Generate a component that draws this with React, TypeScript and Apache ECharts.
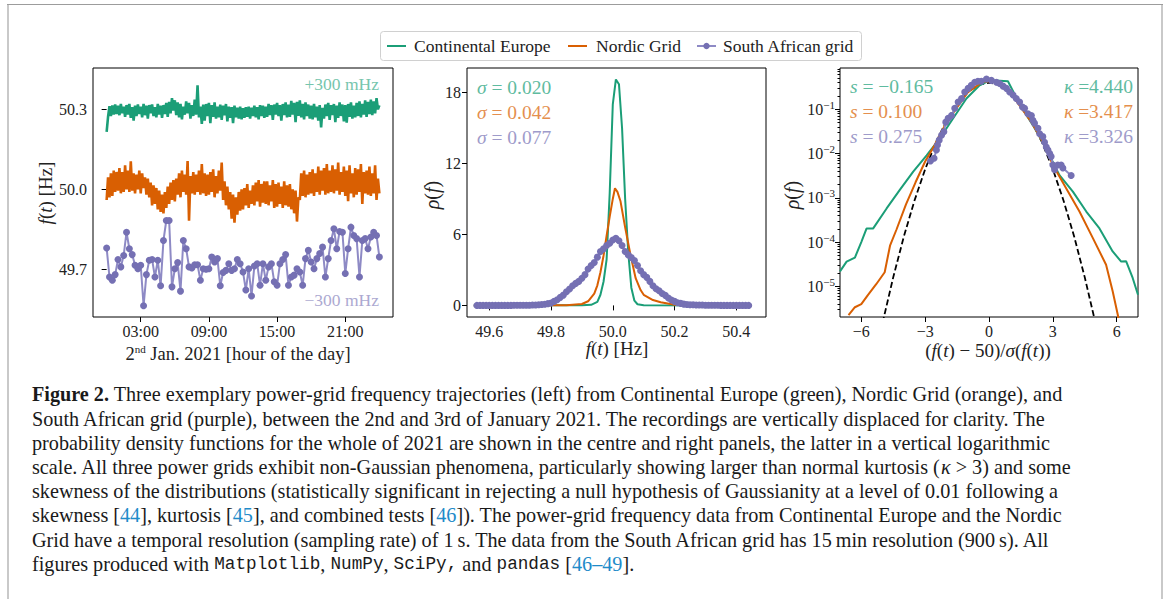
import { useEffect, useRef } from "react";
import * as echarts from "echarts";

const W = 1167;
const H = 599;
const SERIF = "'Liberation Serif', 'Times New Roman', serif";
const MONO = "'Liberation Mono', 'DejaVu Sans Mono', monospace";
const INK = "#222222";

const GREEN = "#1b9e77";
const ORANGE = "#d95f02";
const PURPLE = "#7570b3";
const PURPLE_LINE = "#8e8ac5";
const GREEN_TXT = "#5fbba0";
const ORANGE_TXT = "#e48f4e";
const PURPLE_TXT = "#9e9bca";
const GREEN_FAINT = "#76c5ad";
const PURPLE_FAINT = "#aca9d1";

const SERIES_NAMES = ["Continental Europe", "Nordic Grid", "South African grid"];

// ---------- Left panel: trajectories on 2nd Jan 2021 (deviation from 50 Hz, in mHz) ----------
const TRACE_STEP_H = 0.125; // one reading every 7.5 min of the drawn trace
const SA_STEP_H = 0.25; // South African grid: 15 min resolution
const CE_OFFSET_HZ = 0.3;
const SA_OFFSET_HZ = -0.3;
const CE_TRACE_MHZ = [
  -85, -28, 12, -25, 15, -20, 18, -18,
  14, -22, 20, -15, 10, -28, 16, -20,
  20, -32, 8, -42, 14, -25, 18, -18,
  10, -30, 20, -22, 14, -35, 16, -15,
  18, -25, 8, -30, 20, -20, 14, -32,
  16, -18, 24, -28, 28, -15, 42, -5,
  34, -22, 26, -30, 20, -38, 10, -20,
  30, -15, 24, -35, 16, -25, 36, -20,
  90, -30, 10, -55, 18, -42, 20, -25,
  24, -52, 16, -28, 26, -35, 10, -30,
  18, -40, 14, -22, 20, -45, 10, -32,
  8, -52, 14, -30, 6, -35, 10, -38,
  4, -32, 8, -28, 10, -35, 6, -25,
  14, -30, 8, -38, 16, -25, 14, -32,
  10, -28, 20, -22, 16, -40, 18, -20,
  24, -25, 16, -42, 20, -22, 26, -30,
  18, -28, 32, -20, 24, -48, 28, -25,
  34, -30, 20, -38, 26, -25, 18, -35,
  14, -38, 20, -30, 10, -42, 16, -68,
  6, -35, 18, -25, 24, -40, 16, -22,
  20, -48, 14, -32, 26, -25, 18, -45,
  16, -50, 20, -28, 26, -35, 14, -30,
  24, -25, 30, -30, 20, -20, 34, -28,
  28, -18, 36, -22, 30, -15, 42, 0,
  15,
];
const NG_TRACE_MHZ = [
  -40, 45, -30, 60, -25, 70, -10, 65,
  -5, 80, -15, 65, -10, 90, 0, 70,
  -10, 105, -5, 60, -15, 55, 0, 70,
  -15, 60, 5, 45, -20, 40, -30, 25,
  -60, 15, -55, 5, -75, -5, -85, -20,
  -90, -10, -70, 10, -55, 25, -40, 35,
  -45, 40, -20, 60, -30, 70, -10, 55,
  -20, 106, -118, 50, -15, 65, -20, 55,
  -10, 70, -20, 95, -15, 60, -25, 55,
  -20, 65, -10, 75, -30, 50, -15, 70,
  -5, 100, -40, 30, -60, 10, -75, -10,
  -110, -20, -125, -30, -95, -10, -80, 0,
  -75, 5, -60, 20, -70, -5, -55, 15,
  -60, 25, -45, 35, -65, 20, -50, 30,
  -55, 30, -60, 15, -45, 35, -70, 20,
  -65, 25, -55, 10, -70, 30, -60, 15,
  -65, 20, -75, 0, -90, -5, -121, -30,
  -40, 60, -25, 70, -30, 55, -20, 65,
  -15, 75, -25, 60, -10, 85, -20, 70,
  -5, 80, -20, 95, -15, 70, -10, 90,
  -15, 75, -5, 100, -20, 65, -10, 85,
  -25, 70, -45, 90, -15, 60, -30, 80,
  -20, 75, -10, 95, -55, 65, -15, 70,
  -20, 85, -25, 60, -15, 90, -40, 40,
  -15,
];
const SA_TRACE_MHZ = [
  80, -29, -41, -20, 37, 9, 52, 139, 77, 55,
  15, 2, 15, -137, -20, 34, 37, -29, 34, -62,
  108, 183, 183, -66, 2, 25, -82, 108, 77, 9,
  5, 17, 17, -41, 2, 0, 2, 46, 27, 40,
  -62, -12, -4, 21, -4, 2, 37, 21, -10, -78,
  2, -100, 12, 21, -60, 21, -41, 9, 21, -47,
  -60, 21, 37, 55, -60, -29, -22, 2, -10, -60,
  40, 71, 27, 2, 40, 59, 83, -29, 40, 108,
  152, 77, 142, 139, -16, 77, 158, 127, 115, -29,
  108, 115, 77, 121, 139, 127, 46,
];
const TIME_TICKS_H = [3, 9, 15, 21];
const FREQ_TICKS = [49.7, 50.0, 50.3];

// ---------- Middle panel: PDFs over 2021 ----------
const CE_PDF_F = [49.55, 49.9, 49.93, 49.95, 49.96, 49.97, 49.98, 49.99, 50.0, 50.01, 50.02, 50.03, 50.04, 50.05, 50.06, 50.07, 50.08, 50.1, 50.45];
const CE_PDF_RHO = [0, 0.01, 0.05, 0.3, 0.9, 2.0, 3.9, 9.5, 17.0, 19.1, 18.7, 15.0, 9.0, 4.5, 1.5, 0.4, 0.1, 0.02, 0];
const NG_PDF_F = [49.55, 49.85, 49.9, 49.92, 49.94, 49.95, 49.96, 49.97, 49.98, 49.99, 50.0, 50.007, 50.015, 50.025, 50.04, 50.057, 50.074, 50.09, 50.1, 50.13, 50.155, 50.2, 50.25, 50.45];
const NG_PDF_RHO = [0, 0.02, 0.12, 0.35, 1.0, 1.7, 2.8, 4.2, 5.9, 7.5, 9.0, 9.9, 9.6, 8.8, 6.6, 4.3, 2.3, 1.3, 0.9, 0.45, 0.26, 0.06, 0.01, 0];
const SA_PDF_START = 49.56;
const SA_PDF_BIN = 0.01;
const SA_PDF_RHO = [
  0, 0, 0, 0, 0, 0, 0, 0, 0, 0, 0, 0, 0.01, 0.01, 0.01, 0.01, 0.02, 0.02, 0.03, 0.04, 0.05, 0.07,
  0.1, 0.15, 0.2, 0.34, 0.48, 0.68, 0.87, 1.15, 1.38, 1.66, 1.86, 2.03, 2.3, 2.6, 3.07, 3.38, 3.63, 4.08, 4.55, 4.78, 5.06, 5.25,
  5.53, 5.68, 5.46, 5.06, 4.55, 4.27, 4.05, 3.8, 3.38, 2.93, 2.6, 2.37, 2.03, 1.66, 1.41, 1.24, 1.01, 0.85, 0.62, 0.45, 0.34, 0.22, 0.17, 0.11, 0.08,
  0.06, 0.05, 0.04, 0.03, 0.03, 0.02, 0.02, 0.01, 0.01, 0.01, 0, 0, 0, 0, 0, 0, 0, 0, 0, 0,
];
const PDF_X_TICKS = [49.6, 49.8, 50.0, 50.2, 50.4];
const PDF_Y_TICKS = [0, 6, 12, 18];
const SIGMA_LABELS = ["0.020", "0.042", "0.077"];

// ---------- Right panel: standardised PDFs, log scale ----------
const CE_Z = [-7.0, -6.69, -6.3, -6.0, -5.75, -5.44, -4.81, -4.19, -3.56, -2.93, -2.31, -1.69, -1.06, -0.44, 0.03, 0.5, 0.89, 1.44, 2.06, 2.69, 3.31, 3.94, 4.57, 5.19, 5.81, 6.21, 6.44, 6.75, 7.0];
const CE_Z_RHO = [2.19e-5, 3.63e-5, 4.47e-5, 1.0e-4, 2.04e-4, 2.04e-4, 5.75e-4, 1.51e-3, 3.89e-3, 9.1e-3, 2.19e-2, 6.17e-2, 0.174, 0.347, 0.447, 0.44, 0.427, 0.13, 0.0437, 0.0129, 3.24e-3, 1.38e-3, 4.9e-4, 2.04e-4, 6.17e-5, 3.63e-5, 3.72e-5, 1.55e-5, 6.46e-6];
const NG_Z = [-6.6, -6.3, -6.0, -5.7, -5.3, -4.9, -4.65, -4.35, -3.9, -3.45, -3.0, -2.6, -2.0, -1.0, -0.3, 0.2, 1.0, 2.0, 2.6, 3.0, 3.63, 4.25, 4.88, 5.5, 5.81, 6.05, 6.15];
const NG_Z_RHO = [2.24e-6, 3.39e-6, 3.98e-6, 6.3e-6, 1.12e-5, 2.09e-5, 8.3e-5, 1.9e-4, 7.1e-4, 2.24e-3, 6.6e-3, 1.41e-2, 5.0e-2, 0.24, 0.417, 0.427, 0.24, 0.05, 1.58e-2, 5.5e-3, 1.62e-3, 4.9e-4, 1.23e-4, 3.09e-5, 7.8e-6, 2.29e-6, 1.26e-6];
const SA_Z = [-2.75, -2.58, -2.47, -2.42, -2.34, -2.23, -2.12, -2.03, -1.92, -1.76, -1.61, -1.45, -1.29, -1.14, -0.98, -0.83, -0.67, -0.52, -0.36, -0.12, 0.11, 0.35, 0.5, 0.66, 0.82, 0.97, 1.13, 1.28, 1.44, 1.57, 1.67, 1.83, 1.99, 2.06, 2.14, 2.3, 2.38, 2.53, 2.61, 2.69, 2.77, 2.85, 2.92, 3.0, 3.08, 3.23, 3.39, 3.47, 3.86];
const SA_Z_RHO = [6.8e-3, 7.8e-3, 1.2e-2, 1.55e-2, 2.0e-2, 2.57e-2, 3.1e-2, 5.1e-2, 6.2e-2, 7.2e-2, 0.105, 0.145, 0.174, 0.245, 0.295, 0.347, 0.407, 0.427, 0.427, 0.479, 0.447, 0.407, 0.38, 0.331, 0.295, 0.245, 0.209, 0.174, 0.145, 0.112, 0.105, 0.079, 0.072, 0.056, 0.048, 0.037, 0.028, 0.024, 0.018, 0.014, 0.012, 0.01, 0.0085, 0.0055, 0.0043, 0.0055, 0.0055, 0.0047, 0.0032];
const GAUSS_Z = [-5, -4.5, -4, -3.5, -3, -2.5, -2, -1.5, -1, -0.5, 0, 0.5, 1, 1.5, 2, 2.5, 3, 3.5, 4, 4.5, 5];
const GAUSS_RHO = [1.5e-6, 1.6e-5, 1.34e-4, 8.7e-4, 4.4e-3, 1.75e-2, 5.4e-2, 0.13, 0.242, 0.352, 0.399, 0.352, 0.242, 0.13, 5.4e-2, 1.75e-2, 4.4e-3, 8.7e-4, 1.34e-4, 1.6e-5, 1.5e-6];
const Z_TICKS = [-6, -3, 0, 3, 6];
const LOG_EXPONENTS = [-5, -4, -3, -2, -1];
const SKEW_LABELS = ["−0.165", "0.100", "0.275"];
const KURT_LABELS = ["4.440", "3.417", "3.326"];

const CAPTION_LINES = [
  "{b|Figure 2.} Three exemplary power-grid frequency trajectories (left) from Continental Europe (green), Nordic Grid (orange), and",
  "South African grid (purple), between the 2nd and 3rd of January 2021. The recordings are vertically displaced for clarity. The",
  "probability density functions for the whole of 2021 are shown in the centre and right panels, the latter in a vertical logarithmic",
  "scale. All three power grids exhibit non-Gaussian phenomena, particularly showing larger than normal kurtosis ({i|κ} > 3) and some",
  "skewness of the distributions (statistically significant in rejecting a null hypothesis of Gaussianity at a level of 0.01 following a",
  "skewness [{c|44}], kurtosis [{c|45}], and combined tests [{c|46}]). The power-grid frequency data from Continental Europe and the Nordic",
  "Grid have a temporal resolution (sampling rate) of 1\u2009s. The data from the South African grid has 15\u2009min resolution (900\u2009s). All",
  "figures produced with {m|Matplotlib}, {m|NumPy}, {m|SciPy,} and {m|pandas} [{c|46–49}].",
];
const CAPTION_Y = [394, 418.5, 443, 467, 491, 515, 539.5, 563.5];

// ---------- helpers ----------
function rich(size: number, color: string) {
  return {
    n: { fontSize: size, fontFamily: SERIF, fill: color },
    i: { fontSize: size, fontFamily: SERIF, fontStyle: "italic", fill: color },
    b: { fontSize: size, fontFamily: SERIF, fontWeight: "bold", fill: color },
    m: { fontSize: size - 2.5, fontFamily: MONO, fill: color },
    c: { fontSize: size, fontFamily: SERIF, fill: "#1f8bc9" },
    sup: { fontSize: Math.round(size * 0.62), fontFamily: SERIF, fill: color, verticalAlign: "top", lineHeight: Math.round(size * 0.62) },
  };
}
function txt(x: number, y: number, text: string, o: any = {}) {
  const size = o.size ?? 18;
  const color = o.color ?? INK;
  return {
    type: "text",
    x,
    y,
    rotation: o.rot ?? 0,
    silent: true,
    style: {
      text,
      fontSize: size,
      fontFamily: SERIF,
      fill: color,
      align: o.align ?? "left",
      verticalAlign: "middle",
      lineHeight: Math.round(size * 1.2),
      rich: rich(size, color),
    },
  };
}

const tick = (values: number[], len = 5) => ({
  show: true,
  inside: false,
  length: len,
  customValues: values,
  lineStyle: { color: "#000", width: 1 },
});
const labelBase = { color: INK, fontSize: 16, fontFamily: SERIF, margin: 6 };
const GRID_TOP = 68;
const GRID_H = 249;

const LOG_MIN = 2.04e-6;
const LOG_MAX = 0.85;
const MINOR_LOG_TICKS: number[] = [];
for (let k = -6; k <= -1; k++) {
  for (let m = 2; m <= 9; m++) {
    const v = Math.log10(m) + k;
    if (v > Math.log10(LOG_MIN) && v < Math.log10(LOG_MAX)) MINOR_LOG_TICKS.push(v);
  }
}

function buildOption() {
  const pair = (xs: number[], ys: number[]) => xs.map((x, i) => [x, ys[i]]);

  const graphic: any[] = [
    // page frame
    { type: "rect", silent: true, shape: { x: 7, y: 4, width: 2, height: 600 }, style: { fill: "#c9c9c9" } },
    { type: "rect", silent: true, shape: { x: 1161, y: 4, width: 2, height: 600 }, style: { fill: "#c9c9c9" } },
    { type: "line", silent: true, shape: { x1: 7, y1: 4.5, x2: 1163, y2: 4.5 }, style: { stroke: "#9c9c9c", lineWidth: 1 } },
    // legend
    { type: "rect", silent: true, shape: { x: 380.5, y: 31.5, width: 481, height: 29, r: 3 }, style: { fill: "#fff", stroke: "#d0d0d0", lineWidth: 1 } },
    { type: "line", silent: true, shape: { x1: 387, y1: 46, x2: 406, y2: 46 }, style: { stroke: GREEN, lineWidth: 2 } },
    { type: "line", silent: true, shape: { x1: 568, y1: 46, x2: 587, y2: 46 }, style: { stroke: ORANGE, lineWidth: 2 } },
    { type: "line", silent: true, shape: { x1: 697, y1: 46, x2: 716, y2: 46 }, style: { stroke: PURPLE_LINE, lineWidth: 2 } },
    { type: "circle", silent: true, shape: { cx: 706.5, cy: 46, r: 3.2 }, style: { fill: PURPLE } },
    txt(414, 46, SERIES_NAMES[0], { size: 17.5 }),
    txt(596, 46, SERIES_NAMES[1], { size: 17.5 }),
    txt(723, 46, SERIES_NAMES[2], { size: 17.5 }),
    // left panel annotations and axis names
    txt(379, 84, "+300 mHz", { size: 17.5, color: GREEN_FAINT, align: "right" }),
    txt(379, 299.5, "−300 mHz", { size: 17.5, color: PURPLE_FAINT, align: "right" }),
    txt(45, 193, "{i|f}({i|t}) [Hz]", { size: 19, rot: Math.PI / 2, align: "center" }),
    txt(238, 354, "2{sup|nd} Jan. 2021 [hour of the day]", { size: 18.5, align: "center" }),
    // middle panel
    txt(617, 348, "{i|f}({i|t}) [Hz]", { size: 19, align: "center" }),
    txt(432, 195, "{i|ρ}({i|f})", { size: 20, rot: Math.PI / 2, align: "center" }),
    txt(477, 87.3, "{i|σ} = " + SIGMA_LABELS[0], { size: 19.5, color: GREEN_TXT }),
    txt(477, 112.3, "{i|σ} = " + SIGMA_LABELS[1], { size: 19.5, color: ORANGE_TXT }),
    txt(477, 137.3, "{i|σ} = " + SIGMA_LABELS[2], { size: 19.5, color: PURPLE_TXT }),
    // right panel
    txt(988, 350, "({i|f}({i|t}) − 50)/{i|σ}({i|f}({i|t}))", { size: 19, align: "center" }),
    txt(792, 195, "{i|ρ}({i|f})", { size: 20, rot: Math.PI / 2, align: "center" }),
    txt(850, 86.7, "{i|s} = " + SKEW_LABELS[0], { size: 19.5, color: GREEN_TXT }),
    txt(850, 111.7, "{i|s} = " + SKEW_LABELS[1], { size: 19.5, color: ORANGE_TXT }),
    txt(850, 136.7, "{i|s} = " + SKEW_LABELS[2], { size: 19.5, color: PURPLE_TXT }),
    txt(1133, 86.7, "{i|κ} =" + KURT_LABELS[0], { size: 19.5, color: GREEN_TXT, align: "right" }),
    txt(1133, 111.7, "{i|κ} =" + KURT_LABELS[1], { size: 19.5, color: ORANGE_TXT, align: "right" }),
    txt(1133, 136.7, "{i|κ} =" + KURT_LABELS[2], { size: 19.5, color: PURPLE_TXT, align: "right" }),
  ];
  CAPTION_LINES.forEach((line, i) => {
    graphic.push(txt(32, CAPTION_Y[i], line, { size: 20.2, color: "#1a1a1a" }));
  });

  const hidden = { show: false };

  return {
    animation: false,
    backgroundColor: "#ffffff",
    grid: [
      { left: 93, top: GRID_TOP, width: 300, height: GRID_H, show: true, borderColor: "#000", borderWidth: 1, backgroundColor: "transparent" },
      { left: 467, top: GRID_TOP, width: 299, height: GRID_H, show: true, borderColor: "#000", borderWidth: 1, backgroundColor: "transparent" },
      { left: 840, top: GRID_TOP, width: 298, height: GRID_H, show: true, borderColor: "#000", borderWidth: 1, backgroundColor: "transparent" },
    ],
    xAxis: [
      {
        type: "value", gridIndex: 0, min: -1.2, max: 25.2, position: "bottom",
        axisLine: hidden, splitLine: hidden,
        axisTick: tick(TIME_TICKS_H),
        axisLabel: { ...labelBase, customValues: TIME_TICKS_H, formatter: (v: number) => `${String(Math.round(v)).padStart(2, "0")}:00` },
      },
      {
        type: "value", gridIndex: 1, min: 49.528, max: 50.496, position: "bottom",
        axisLine: hidden, splitLine: hidden,
        axisTick: tick(PDF_X_TICKS),
        axisLabel: { ...labelBase, customValues: PDF_X_TICKS, formatter: (v: number) => v.toFixed(1) },
      },
      {
        type: "value", gridIndex: 2, min: -7, max: 7, position: "bottom",
        axisLine: hidden, splitLine: hidden,
        axisTick: tick(Z_TICKS),
        axisLabel: { ...labelBase, customValues: Z_TICKS, formatter: (v: number) => (v < 0 ? "−" + Math.abs(v) : String(v)) },
      },
    ],
    yAxis: [
      {
        type: "value", gridIndex: 0, min: 49.521, max: 50.455, position: "left",
        axisLine: hidden, splitLine: hidden,
        axisTick: tick(FREQ_TICKS),
        axisLabel: { ...labelBase, customValues: FREQ_TICKS, formatter: (v: number) => v.toFixed(1) },
      },
      {
        type: "value", gridIndex: 1, min: -0.98, max: 20.07, position: "left",
        axisLine: hidden, splitLine: hidden,
        axisTick: tick(PDF_Y_TICKS),
        axisLabel: { ...labelBase, customValues: PDF_Y_TICKS, formatter: (v: number) => String(v) },
      },
      {
        type: "log", logBase: 10, gridIndex: 2, min: LOG_MIN, max: LOG_MAX, position: "left", offset: 0,
        axisLine: hidden, splitLine: hidden, axisTick: hidden, axisLabel: hidden,
      },
      {
        type: "value", gridIndex: 2, min: Math.log10(LOG_MIN), max: Math.log10(LOG_MAX), position: "left", offset: 0,
        axisLine: hidden, splitLine: hidden,
        axisTick: tick(LOG_EXPONENTS),
        axisLabel: {
          ...labelBase,
          margin: 5,
          customValues: LOG_EXPONENTS,
          formatter: (v: number) => `{b|10}{s|−${Math.abs(Math.round(v))}}`,
          rich: {
            b: { color: INK, fontSize: 16, fontFamily: SERIF, lineHeight: 20 },
            s: { color: INK, fontSize: 11, fontFamily: SERIF, lineHeight: 10, verticalAlign: "top" },
          },
        },
      },
      {
        type: "value", gridIndex: 2, min: Math.log10(LOG_MIN), max: Math.log10(LOG_MAX), position: "left", offset: 0,
        axisLine: hidden, splitLine: hidden, axisLabel: hidden,
        axisTick: tick(MINOR_LOG_TICKS, 2.5),
      },
    ],
    graphic,
    series: [
      {
        name: SERIES_NAMES[0], type: "line", xAxisIndex: 0, yAxisIndex: 0, symbol: "none", silent: true,
        lineStyle: { color: GREEN, width: 2.6 },
        data: CE_TRACE_MHZ.map((d, i) => [i * TRACE_STEP_H, 50 + CE_OFFSET_HZ + d / 1000]),
      },
      {
        name: SERIES_NAMES[1], type: "line", xAxisIndex: 0, yAxisIndex: 0, symbol: "none", silent: true,
        lineStyle: { color: ORANGE, width: 2.6 },
        data: NG_TRACE_MHZ.map((d, i) => [i * TRACE_STEP_H, 50 + d / 1000]),
      },
      {
        name: SERIES_NAMES[2], type: "line", xAxisIndex: 0, yAxisIndex: 0, symbol: "circle", symbolSize: 7, showAllSymbol: true, silent: true,
        lineStyle: { color: PURPLE_LINE, width: 2 }, itemStyle: { color: PURPLE },
        data: SA_TRACE_MHZ.map((d, i) => [i * SA_STEP_H, 50 + SA_OFFSET_HZ + d / 1000]),
      },
      {
        name: SERIES_NAMES[0], type: "line", xAxisIndex: 1, yAxisIndex: 1, symbol: "none", silent: true,
        lineStyle: { color: GREEN, width: 2 }, data: pair(CE_PDF_F, CE_PDF_RHO),
      },
      {
        name: SERIES_NAMES[1], type: "line", xAxisIndex: 1, yAxisIndex: 1, symbol: "none", silent: true,
        lineStyle: { color: ORANGE, width: 2 }, data: pair(NG_PDF_F, NG_PDF_RHO),
      },
      {
        name: SERIES_NAMES[2], type: "line", xAxisIndex: 1, yAxisIndex: 1, symbol: "circle", symbolSize: 7, showAllSymbol: true, silent: true,
        lineStyle: { color: PURPLE_LINE, width: 2 }, itemStyle: { color: PURPLE },
        data: SA_PDF_RHO.map((r, i) => [SA_PDF_START + i * SA_PDF_BIN, r]),
      },
      {
        name: "Gaussian", type: "line", xAxisIndex: 2, yAxisIndex: 2, symbol: "none", silent: true,
        lineStyle: { color: "#000", width: 1.8, type: [6, 3] }, data: pair(GAUSS_Z, GAUSS_RHO),
      },
      {
        name: SERIES_NAMES[0], type: "line", xAxisIndex: 2, yAxisIndex: 2, symbol: "none", silent: true,
        lineStyle: { color: GREEN, width: 2 }, data: pair(CE_Z, CE_Z_RHO),
      },
      {
        name: SERIES_NAMES[1], type: "line", xAxisIndex: 2, yAxisIndex: 2, symbol: "none", silent: true,
        lineStyle: { color: ORANGE, width: 2 }, data: pair(NG_Z, NG_Z_RHO),
      },
      {
        name: SERIES_NAMES[2], type: "line", xAxisIndex: 2, yAxisIndex: 2, symbol: "circle", symbolSize: 7, showAllSymbol: true, silent: true,
        lineStyle: { color: PURPLE_LINE, width: 2 }, itemStyle: { color: PURPLE },
        data: pair(SA_Z, SA_Z_RHO),
      },
    ],
  };
}

export default function App() {
  const ref = useRef<HTMLDivElement>(null);
  useEffect(() => {
    if (!ref.current) return;
    const chart = echarts.init(ref.current, undefined, { renderer: "svg", width: W, height: H });
    chart.setOption(buildOption() as any);
    return () => chart.dispose();
  }, []);
  return <div ref={ref} style={{ position: "fixed", left: 0, top: 0, width: W, height: H, background: "#fff" }} />;
}
